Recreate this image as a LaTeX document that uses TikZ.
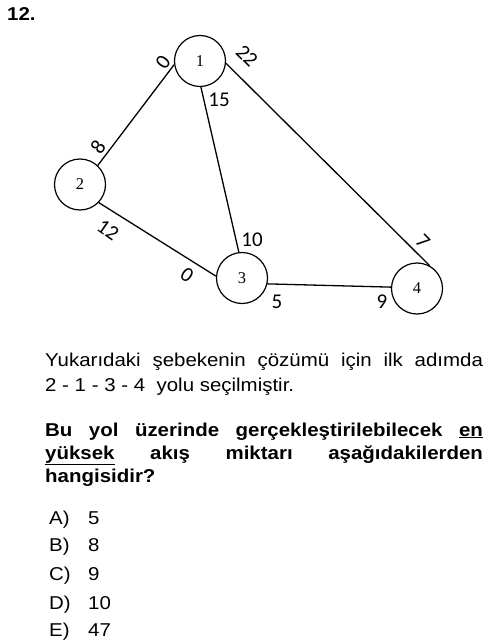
\documentclass[tikz,border=0pt]{standalone}
\usepackage{fontspec}
\setmainfont{Liberation Sans}
\newfontfamily\capfont{Carlito}
\newfontfamily\vertexfont{Liberation Serif}
\newcommand{\wide}[1]{\scalebox{1.1}[1]{#1}}
\tikzset{
  vertex/.style={draw,circle,line width=1.2pt,minimum size=51pt,inner sep=0pt,
    font=\vertexfont\fontsize{16.5}{16.5}\selectfont},
  arc/.style={line width=1.3pt},
  flowlabel/.style={inner sep=0pt,font=\capfont\fontsize{21}{21}\selectfont},
  qline/.style={anchor=base west,inner sep=0pt,font=\fontsize{18.6}{22}\selectfont},
  qbold/.style={qline,font=\bfseries\fontsize{18.6}{22}\selectfont},
}
\begin{document}
\begin{tikzpicture}[x=1pt,y=-1pt]
\useasboundingbox (0,0) rectangle (500,644);
% Question number
\node[qbold] (qnum) at (7,20.7) {\wide{12.}};

% Network nodes
\node[vertex] (n1) at (200,61) {1};
\node[vertex] (n2) at (80,184.5) {2};
\node[vertex] (n3) at (242,278) {3};
\node[vertex] (n4) at (417,288.5) {4};

% Arcs
\draw[arc] (n2.47) -- (n1.188);
\draw[arc] (n1.272) -- (n3.97);
\draw[arc] (n1.355) -- (n4.61);
\draw[arc] (n2.316) -- (n3.176);
\draw[arc] (n3.347) -- (n4.177);

% Arc capacities
\node[flowlabel,rotate=54] (c12) at (163,62) {0};
\node[flowlabel,rotate=54] (c21) at (98,147) {8};
\node[flowlabel] (c13) at (219,100) {15};
\node[flowlabel] (c31) at (252,240) {10};
\node[flowlabel,rotate=-45] (c14) at (247,56) {22};
\node[flowlabel,rotate=-45] (c41) at (423,241) {7};
\node[flowlabel,rotate=-35] (c23) at (108,230) {12};
\node[flowlabel,rotate=-35] (c32) at (187,275) {0};
\node[flowlabel] (c34) at (277,302) {5};
\node[flowlabel] (c43) at (382,302) {9};

% Question text
\node[qline] (t1) at (45,366.7) {\wide{\makebox[398pt][s]{Yukarıdaki şebekenin çözümü için ilk adımda}}};
\node[qline] (t2) at (45,391) {\wide{2 - 1 - 3 - 4~~yolu seçilmiştir.}};
\node[qbold] (b1) at (45,436) {\wide{\makebox[398pt][s]{Bu yol üzerinde gerçekleştirilebilecek \underline{en}}}};
\node[qbold] (b2) at (45,459.3) {\wide{\makebox[398pt][s]{\underline{yüksek} akış miktarı aşağıdakilerden}}};
\node[qbold] (b3) at (45,482) {\wide{hangisidir?}};

% Choices
\foreach \opt/\val/\y in {A/5/524,B/8/551.7,C/9/580.7,D/10/609,E/47/636} {
  \node[qline] (opt\opt) at (49,\y) {\wide{\opt)}};
  \node[qline] (val\opt) at (88,\y) {\wide{\val}};
}
\end{tikzpicture}
\end{document}
